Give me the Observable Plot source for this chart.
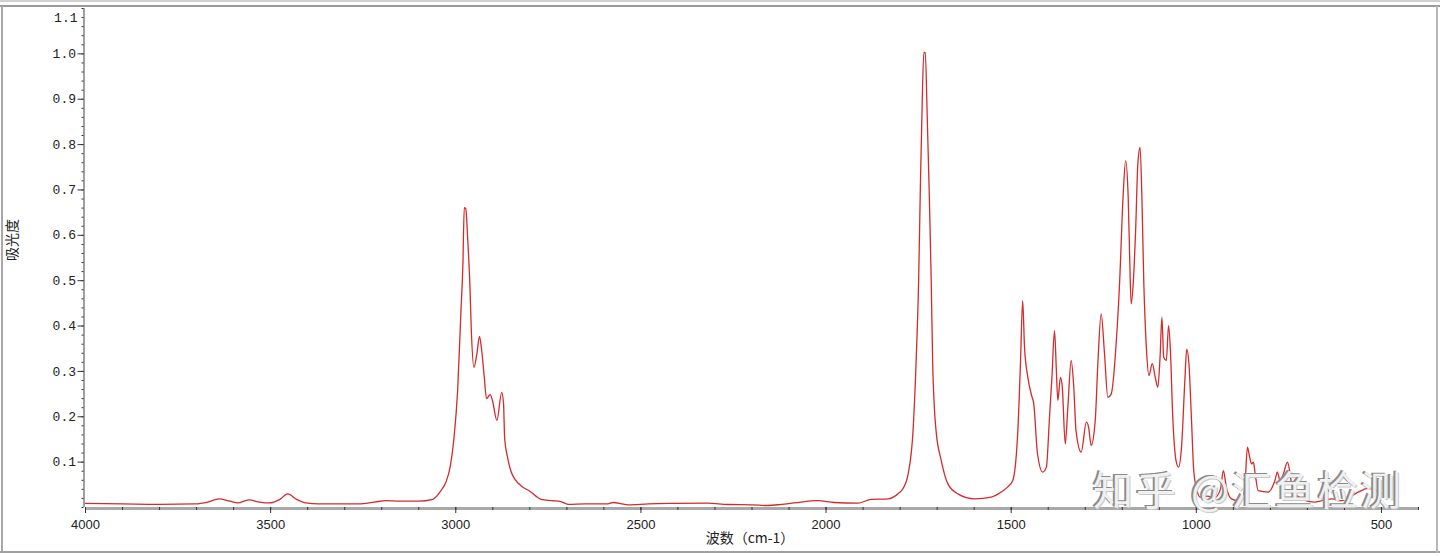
<!DOCTYPE html>
<html>
<head>
<meta charset="utf-8">
<script src="https://cdn.jsdelivr.net/npm/d3@7"></script>
<script src="https://cdn.jsdelivr.net/npm/@observablehq/plot@0.6"></script>
<style>
  html, body { margin: 0; padding: 0; background: #fff; }
  #wrap { position: relative; width: 1440px; height: 556px; overflow: hidden; }
  #chart svg { display: block; }
  .bd { position: absolute; }
  #wm { position: absolute; left: 1093px; top: 468px; font-family: "Noto Sans CJK SC", sans-serif;
        font-size: 40px; line-height: 40px; height: 40px; color: #f0f0f0; letter-spacing: 3px; white-space: pre;
        text-shadow: -2px -1px 0 #8a8a8a, 1px 1px 0 #c8c8c8; }
</style>
</head>
<body>
<div id="wrap">
  <div id="chart"></div>
  <div class="bd" style="left:0;top:0;width:1440px;height:2px;background:#d0d0d0"></div>
  <div class="bd" style="left:0;top:5px;width:1440px;height:2px;background:#9a9a9a"></div>
  <div class="bd" style="left:1px;top:6px;width:2px;height:547px;background:#a8a8a8"></div>
  <div class="bd" style="left:0;top:551px;width:1440px;height:2px;background:#a0a0a0"></div>
  <div class="bd" style="left:1436px;top:6px;width:2px;height:547px;background:#b8b8b8"></div>
  <div id="wm">知乎 @汇鱼检测</div>
</div>
<script>
// FTIR absorbance spectrum
const wavenumber = [
  4000, 3900, 3800, 3703, 3670, 3640, 3610, 3589, 3559, 3530, 3505, 3475, 3454, 3430, 3405, 3370,
  3300, 3262, 3220, 3189, 3150, 3100, 3062, 3040, 3027, 3015, 3005, 2995, 2986, 2981, 2977, 2973,
  2968, 2962, 2958, 2951, 2943, 2936, 2930, 2923, 2917, 2907, 2901, 2889, 2876, 2871, 2868, 2860,
  2851, 2840, 2824, 2800, 2770, 2740, 2716, 2697, 2650, 2589, 2576, 2535, 2480, 2411, 2319, 2265,
  2200, 2157, 2120, 2086, 2022, 1978, 1914, 1878, 1832, 1816, 1805, 1792, 1778, 1765, 1757, 1750,
  1745, 1741, 1736, 1732, 1727, 1721, 1716, 1712, 1703, 1689, 1671, 1644, 1599, 1554, 1527, 1510,
  1496, 1482, 1475, 1469, 1464, 1455, 1445, 1439, 1429, 1415, 1405, 1397, 1390, 1383, 1378, 1374,
  1367, 1362, 1354, 1347, 1338, 1331, 1325, 1311, 1297, 1291, 1284, 1273, 1266, 1257, 1248, 1239,
  1230, 1216, 1207, 1198, 1191, 1184, 1180, 1176, 1170, 1164, 1158, 1152, 1147, 1142, 1135, 1128,
  1119, 1111, 1104, 1098, 1093, 1088, 1081, 1075, 1070, 1064, 1055, 1048, 1040, 1031, 1026, 1020,
  1013, 1007, 998, 990, 970, 950, 935, 927, 919, 905, 887, 873, 868, 862, 856, 851,
  846, 841, 833, 806, 788, 781, 774, 765, 754, 748, 743, 734, 681, 635, 608, 563,
  536, 500
];
const absorbance = [
  0.009, 0.008, 0.007, 0.008, 0.012, 0.019, 0.014, 0.010, 0.017, 0.012, 0.010, 0.018, 0.030, 0.018, 0.010, 0.008,
  0.008, 0.008, 0.012, 0.015, 0.014, 0.014, 0.018, 0.037, 0.055, 0.090, 0.152, 0.258, 0.434, 0.529, 0.661, 0.659,
  0.595, 0.493, 0.390, 0.309, 0.339, 0.377, 0.346, 0.287, 0.240, 0.249, 0.236, 0.192, 0.254, 0.229, 0.152, 0.110,
  0.080, 0.062, 0.048, 0.036, 0.018, 0.015, 0.013, 0.007, 0.008, 0.008, 0.011, 0.006, 0.008, 0.009, 0.0095, 0.0066,
  0.006, 0.0044, 0.007, 0.010, 0.015, 0.011, 0.0095, 0.018, 0.019, 0.024, 0.031, 0.042, 0.075, 0.170, 0.317, 0.500,
  0.720, 0.868, 1.003, 1.003, 0.868, 0.683, 0.500, 0.317, 0.170, 0.104, 0.052, 0.030, 0.019, 0.023, 0.034, 0.045,
  0.059, 0.170, 0.317, 0.456, 0.353, 0.287, 0.247, 0.228, 0.119, 0.078, 0.089, 0.192, 0.287, 0.390, 0.302, 0.236,
  0.287, 0.265, 0.140, 0.221, 0.324, 0.265, 0.170, 0.122, 0.188, 0.177, 0.137, 0.192, 0.317, 0.427, 0.339, 0.243,
  0.250, 0.368, 0.500, 0.683, 0.764, 0.683, 0.551, 0.449, 0.500, 0.610, 0.757, 0.794, 0.683, 0.500, 0.353, 0.291,
  0.317, 0.287, 0.265, 0.331, 0.419, 0.331, 0.324, 0.401, 0.346, 0.206, 0.104, 0.089, 0.133, 0.280, 0.349, 0.317,
  0.192, 0.081, 0.037, 0.023, 0.025, 0.022, 0.040, 0.081, 0.045, 0.019, 0.015, 0.023, 0.059, 0.133, 0.111, 0.096,
  0.100, 0.074, 0.037, 0.034, 0.059, 0.078, 0.059, 0.074, 0.100, 0.081, 0.052, 0.030, 0.012, 0.019, 0.015, 0.034,
  0.042, 0.030
];
const xMajorTicks = [4000, 3500, 3000, 2500, 2000, 1500, 1000, 500];
const xMinorTicks = d3.range(4000, 399, -100);
const yMajorTicks = [0.1, 0.2, 0.3, 0.4, 0.5, 0.6, 0.7, 0.8, 0.9, 1.0];
const yTopTick = [1.1];
const yMinorTicks = d3.range(0, 1.101, 0.02);
const xLabel = "波数（cm-1）";
const yLabel = "吸光度";

const spectrum = wavenumber.map((w, i) => ({w, a: absorbance[i]}));

const chart = Plot.plot({
  width: 1440,
  height: 556,
  marginLeft: 85,
  marginRight: 22,
  marginTop: 8,
  marginBottom: 49,
  x: {domain: [4000, 400], axis: null},
  y: {domain: [0, 1.1], axis: null},
  style: {background: "transparent"},
  marks: [
    Plot.ruleY([0], {stroke: "#a9a9a9", strokeWidth: 3, dy: 1}),
    Plot.ruleX([4000], {stroke: "#808080", strokeWidth: 1.5, dx: -1.5}),
    Plot.axisX(xMinorTicks, {anchor: "bottom", tickSize: 3, tickFormat: () => "", label: null, stroke: "#333"}),
    Plot.axisX(xMajorTicks, {anchor: "bottom", tickSize: 6, tickPadding: 6, tickFormat: d => String(d),
      label: null, stroke: "#333", fill: "#222", fontSize: 13, fontFamily: "Liberation Sans, Arial, sans-serif"}),
    Plot.axisY(yMinorTicks, {anchor: "left", tickSize: 2, tickFormat: () => "", label: null, stroke: "#333", dx: -1.5}),
    Plot.axisY(yMajorTicks, {anchor: "left", tickSize: 6, tickPadding: 2, tickFormat: d => d.toFixed(1),
      label: null, stroke: "#333", fill: "#222", fontSize: 13, fontFamily: "Liberation Mono, monospace", dx: -1.5}),
    Plot.axisY(yTopTick, {anchor: "left", tickSize: 0, tickPadding: 8, tickFormat: d => d.toFixed(1),
      label: null, fill: "#222", fontSize: 13, fontFamily: "Liberation Mono, monospace", dy: 9}),
    Plot.line(spectrum, {x: "w", y: "a", stroke: "#d42a2a", strokeWidth: 1.3, curve: "monotone-x"}),
    Plot.text([xLabel], {frameAnchor: "bottom", dy: 35, dx: -2, text: d => d, fontSize: 14,
      fontFamily: "Noto Sans CJK SC, sans-serif", fill: "#222"}),
    Plot.text([yLabel], {frameAnchor: "left", dx: -73, dy: 3, rotate: -90, text: d => d, fontSize: 14,
      fontFamily: "Noto Sans CJK SC, sans-serif", fill: "#222"})
  ]
});
document.getElementById("chart").appendChild(chart);
</script>
</body>
</html>
